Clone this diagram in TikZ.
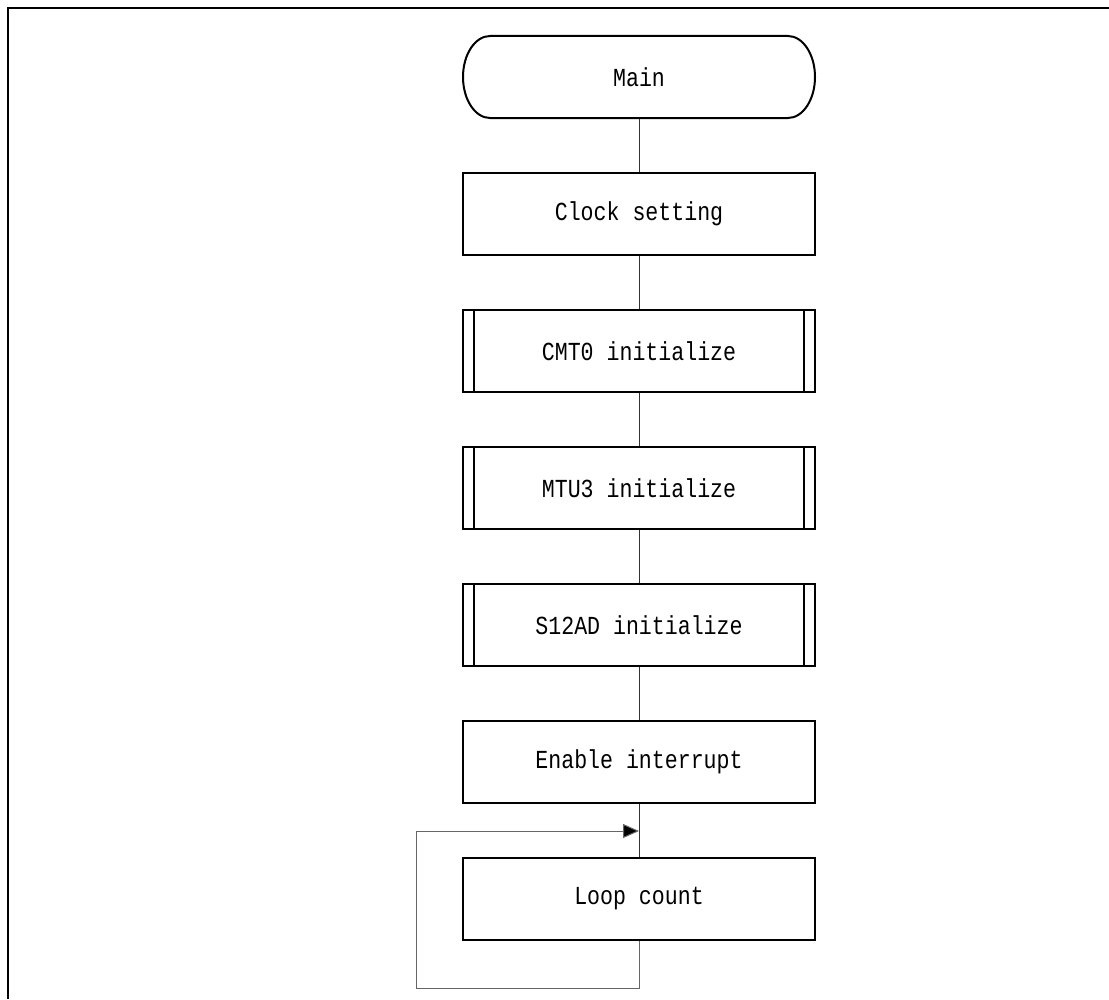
\documentclass[tikz,border=0pt]{standalone}
\usepackage{fontspec}
\newfontfamily\flowfont[FakeStretch=0.83]{Liberation Mono}
\usetikzlibrary{arrows.meta}
\tikzset{
  procbox/.style={draw=black, line width=1.5pt, minimum width=264pt, minimum height=61.5pt,
    inner sep=0pt, font=\flowfont\fontsize{19.5pt}{22pt}\selectfont},
  termbox/.style={procbox, draw=none},
  conn/.style={draw=black!80, line width=0.75pt},
  loopline/.style={draw=black!60, line width=0.75pt},
  frameline/.style={draw=black, line width=1.5pt},
}
\begin{document}
\begin{tikzpicture}[x=0.75pt, y=-0.75pt]
\useasboundingbox (0,0) rectangle (1109,999);
% page frame (top and left edges)
\draw[frameline] (1109,8) -- (8,8) -- (8,999);

% terminator with elliptical ends
\node[termbox] (main) at (639,77) {Main};
\draw[line width=1.5pt]
  (490,36) -- (788,36)
  .. controls (802.9,36) and (815,54.4) .. (815,77)
  .. controls (815,99.6) and (802.9,118) .. (788,118)
  -- (490,118)
  .. controls (475.1,118) and (463,99.6) .. (463,77)
  .. controls (463,54.4) and (475.1,36) .. (490,36) -- cycle;

% process steps
\node[procbox] (clk) at (639,214) {Clock setting};
\node[procbox] (cmt) at (639,351) {CMT0 initialize};
\node[procbox] (mtu) at (639,488) {MTU3 initialize};
\node[procbox] (adc) at (639,625) {S12AD initialize};
\node[procbox] (ena) at (639,762) {Enable interrupt};
\node[procbox] (cnt) at (639,899) {Loop count};

% predefined-process side bars
\foreach \n in {cmt,mtu,adc}{
  \draw[line width=1.2pt] ([xshift=9pt]\n.north west) -- ([xshift=9pt]\n.south west);
  \draw[line width=1.2pt] ([xshift=-9pt]\n.north east) -- ([xshift=-9pt]\n.south east);
}

% connectors
\draw[conn] (main.south) -- (clk.north);
\draw[conn] (clk.south) -- (cmt.north);
\draw[conn] (cmt.south) -- (mtu.north);
\draw[conn] (mtu.south) -- (adc.north);
\draw[conn] (adc.south) -- (ena.north);
\draw[conn] (ena.south) -- (cnt.north);

% loop back
\coordinate (lb) at (416,988);
\coordinate (merge) at (639,831);
\draw[loopline, -{Triangle[length=12pt, width=10.5pt, fill=black]}]
  (cnt.south) |- (lb) |- (merge);
\end{tikzpicture}
\end{document}
